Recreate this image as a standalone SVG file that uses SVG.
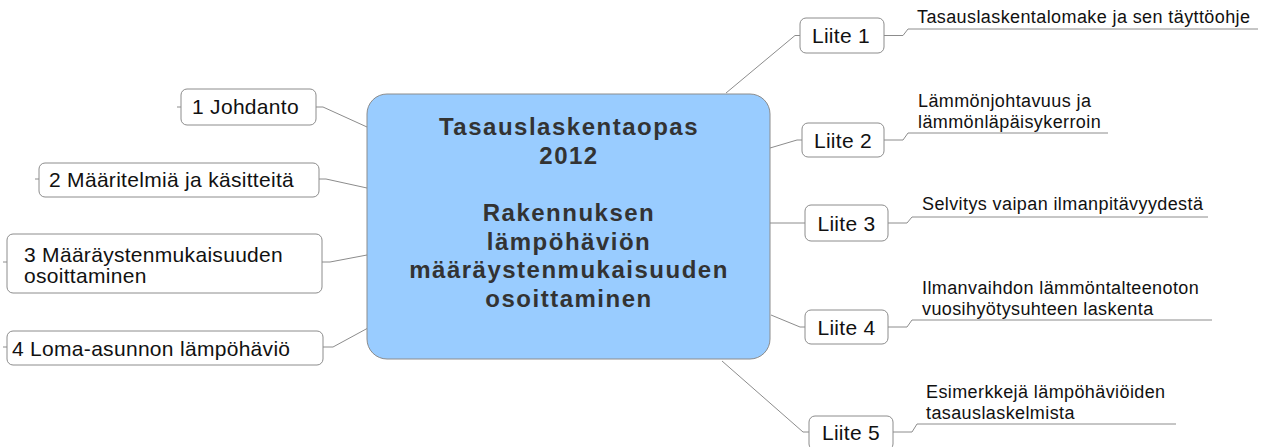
<svg xmlns="http://www.w3.org/2000/svg" width="1266" height="447" viewBox="0 0 1266 447">
<style>
.bg{fill:#ffffff}
.node rect{fill:#ffffff;stroke:#8c8c8c;stroke-width:1}
.node text{font-family:"Liberation Sans",Arial,sans-serif;font-size:21px;fill:#111111;letter-spacing:0.3px}
.small{font-family:"Liberation Sans",Arial,sans-serif;font-size:18px;fill:#111111;letter-spacing:0.4px}
.center rect{fill:#99ccff;stroke:#8c8c8c;stroke-width:1}
.center text{font-family:"Liberation Sans",Arial,sans-serif;font-size:24px;font-weight:bold;fill:#333333;letter-spacing:1.5px;text-anchor:middle}
.conn path{fill:none;stroke:#8c8c8c;stroke-width:1}
</style>
<rect class="bg" x="0" y="0" width="1266" height="447"/>
<g class="conn" id="connectors">
<path d="M316,107 L323,107 L367,127"/>
<path d="M177,107 L181,107"/>
<path d="M319,179 L326,179 L367,188"/>
<path d="M35,179 L39,179"/>
<path d="M322,262 L330,262 L367,255"/>
<path d="M3,262 L7,262"/>
<path d="M323,347 L333,347 L368,328"/>
<path d="M3,347 L7,347"/>
<path d="M726,93 L795,35.5 L800,35.5"/>
<path d="M770,148 L797,140 L802,140"/>
<path d="M770,223 L805,223"/>
<path d="M771,315 L800,327 L805,327"/>
<path d="M722,361 L803,432 L809,432"/>
<path d="M884,35.5 L903,35.5 L908,29 L1258,29"/>
<path d="M884,140 L903,140 L908,133 L1108,133"/>
<path d="M888,223 L907,223 L912,217 L1208,217"/>
<path d="M888,327 L907,327 L912,320 L1212,320"/>
<path d="M893,432 L912,432 L917,424 L1176,424"/>
</g>
<g class="center" id="central">
<rect x="367" y="94" width="403" height="265" rx="20" ry="20"/>
<text x="569" y="135">Tasauslaskentaopas</text>
<text x="569" y="164">2012</text>
<text x="569" y="221">Rakennuksen</text>
<text x="569" y="249.5">lämpöhäviön</text>
<text x="569" y="278">määräystenmukaisuuden</text>
<text x="569" y="307">osoittaminen</text>
</g>
<g class="node" id="n1">
<rect x="181" y="89" width="135" height="36" rx="6"/>
<text x="192" y="114">1 Johdanto</text>
</g>
<g class="node" id="n2">
<rect x="39" y="163" width="280" height="34" rx="6"/>
<text x="49" y="187">2 Määritelmiä ja käsitteitä</text>
</g>
<g class="node" id="n3">
<rect x="7" y="234" width="315" height="59" rx="6"/>
<text x="24" y="262">3 Määräystenmukaisuuden</text>
<text x="24" y="283">osoittaminen</text>
</g>
<g class="node" id="n4">
<rect x="7" y="331" width="316" height="34" rx="6"/>
<text x="12" y="356">4 Loma-asunnon lämpöhäviö</text>
</g>
<g class="node" id="liite1">
<rect x="800" y="18" width="84" height="35" rx="6"/>
<text x="841" y="43" text-anchor="middle">Liite 1</text>
</g>
<g class="node" id="liite2">
<rect x="802" y="123" width="82" height="34" rx="6"/>
<text x="843" y="147.5" text-anchor="middle">Liite 2</text>
</g>
<g class="node" id="liite3">
<rect x="805" y="205" width="83" height="36" rx="6"/>
<text x="846.5" y="230.5" text-anchor="middle">Liite 3</text>
</g>
<g class="node" id="liite4">
<rect x="805" y="310" width="83" height="34" rx="6"/>
<text x="846.5" y="334.5" text-anchor="middle">Liite 4</text>
</g>
<g class="node" id="liite5">
<rect x="809" y="416" width="84" height="34" rx="6"/>
<text x="851" y="440" text-anchor="middle">Liite 5</text>
</g>
<g id="l1text"><text class="small" x="917" y="23">Tasauslaskentalomake ja sen täyttöohje</text></g>
<g id="l2text"><text class="small" x="918" y="107">Lämmönjohtavuus ja</text><text class="small" x="918" y="128">lämmönläpäisykerroin</text></g>
<g id="l3text"><text class="small" x="922" y="210">Selvitys vaipan ilmanpitävyydestä</text></g>
<g id="l4text"><text class="small" x="922" y="294">Ilmanvaihdon lämmöntalteenoton</text><text class="small" x="922" y="315">vuosihyötysuhteen laskenta</text></g>
<g id="l5text"><text class="small" x="926" y="398">Esimerkkejä lämpöhäviöiden</text><text class="small" x="926" y="419">tasauslaskelmista</text></g>
</svg>
